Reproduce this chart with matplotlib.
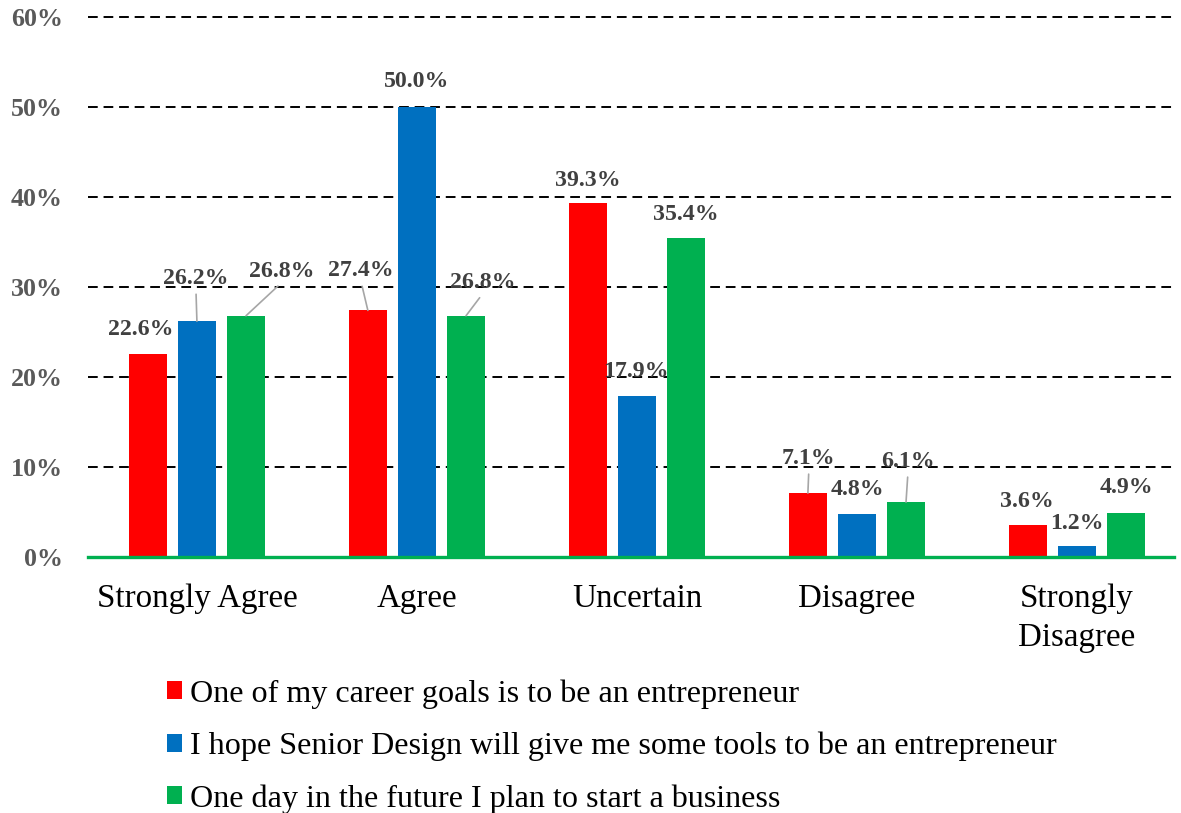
import matplotlib
matplotlib.use("Agg")
import matplotlib.pyplot as plt
import numpy as np

plt.rcParams['font.family'] = ['Liberation Serif', 'DejaVu Serif']

## datos
categories = ["Strongly Agree", "Agree", "Uncertain", "Disagree", "Strongly\nDisagree"]
series = ["One of my career goals is to be an entrepreneur",
          "I hope Senior Design will give me some tools to be an entrepreneur",
          "One day in the future I plan to start a business"]
career_goal = [22.6, 27.4, 39.3, 7.1, 3.6]
senior_design = [26.2, 50.0, 17.9, 4.8, 1.2]
start_business = [26.8, 26.8, 35.4, 6.1, 4.9]
values = [career_goal, senior_design, start_business]
yticks = [0, 10, 20, 30, 40, 50, 60]

colors = ['#FF0000', '#0070C0', '#00B050']

# desplazamiento de cada etiqueta (pixeles) respecto a la punta de la barra
label_shift = [
    [(-7, 24), (-7, 40), (0, 23), (1, 35), (-1, 23)],
    [(-1, 43), (0, 25), (-1, 24), (0, 24), (0, 23)],
    [(36, 44), (17, 33), (0, 24), (2, 41), (0, 25)],
]

W, H = 1181, 813
fig = plt.figure(figsize=(W / 100, H / 100), dpi=100)
ax = fig.add_axes([88 / W, (H - 557) / H, (1174 - 88) / W, (557 - 12.5) / H])

x = np.arange(len(categories))
width = 0.173
step = 0.223

bars = []
for j, vals in enumerate(values):
    b = ax.bar(x + (j - 1) * step, vals, width, color=colors[j], zorder=2, label=series[j])
    bars.append(b)
    for i, v in enumerate(vals):
        dx, dy = label_shift[j][i]
        arrow = None
        if dy > 30:
            arrow = dict(arrowstyle='-', color='#A6A6A6', lw=1.2, relpos=(0.5, 0),
                         patchA=None, shrinkA=4, shrinkB=0)
        ax.annotate(f"{v:.1f}%", xy=(x[i] + (j - 1) * step, v), xytext=(dx, dy),
                    textcoords='offset pixels', ha='center', va='center',
                    fontsize=17.2, fontweight='bold', color='#404040',
                    arrowprops=arrow, zorder=4)

ax.set_xlim(-0.495, 4.441)
ax.set_ylim(0, 60.5)
ax.set_yticks(yticks)
ax.set_yticklabels([f"{t}%" for t in yticks], fontsize=18.7, fontweight='bold', color='#595959')
ax.set_xticks(x)
ax.set_xticklabels(categories, fontsize=23.8, color='black', linespacing=1.38)
ax.tick_params(axis='both', length=0)
ax.tick_params(axis='y', pad=18)
ax.tick_params(axis='x', pad=19)

ax.yaxis.grid(True, color='black', linestyle=(0, (5, 3)), linewidth=1.4, zorder=0)
ax.set_axisbelow(True)
for s in ['left', 'right', 'top']:
    ax.spines[s].set_visible(False)
ax.spines['bottom'].set_color('#00B050')
ax.spines['bottom'].set_linewidth(2.4)
ax.spines['bottom'].set_zorder(3)

fig.legend(bars, series, loc='upper left', bbox_to_anchor=(167 / W, (H - 679) / H),
           frameon=False, fontsize=23.1, handlelength=0.47, handleheight=0.47,
           handletextpad=0.25, labelspacing=0.72, borderpad=0, borderaxespad=0)

fig.savefig('out.png', dpi=100)
